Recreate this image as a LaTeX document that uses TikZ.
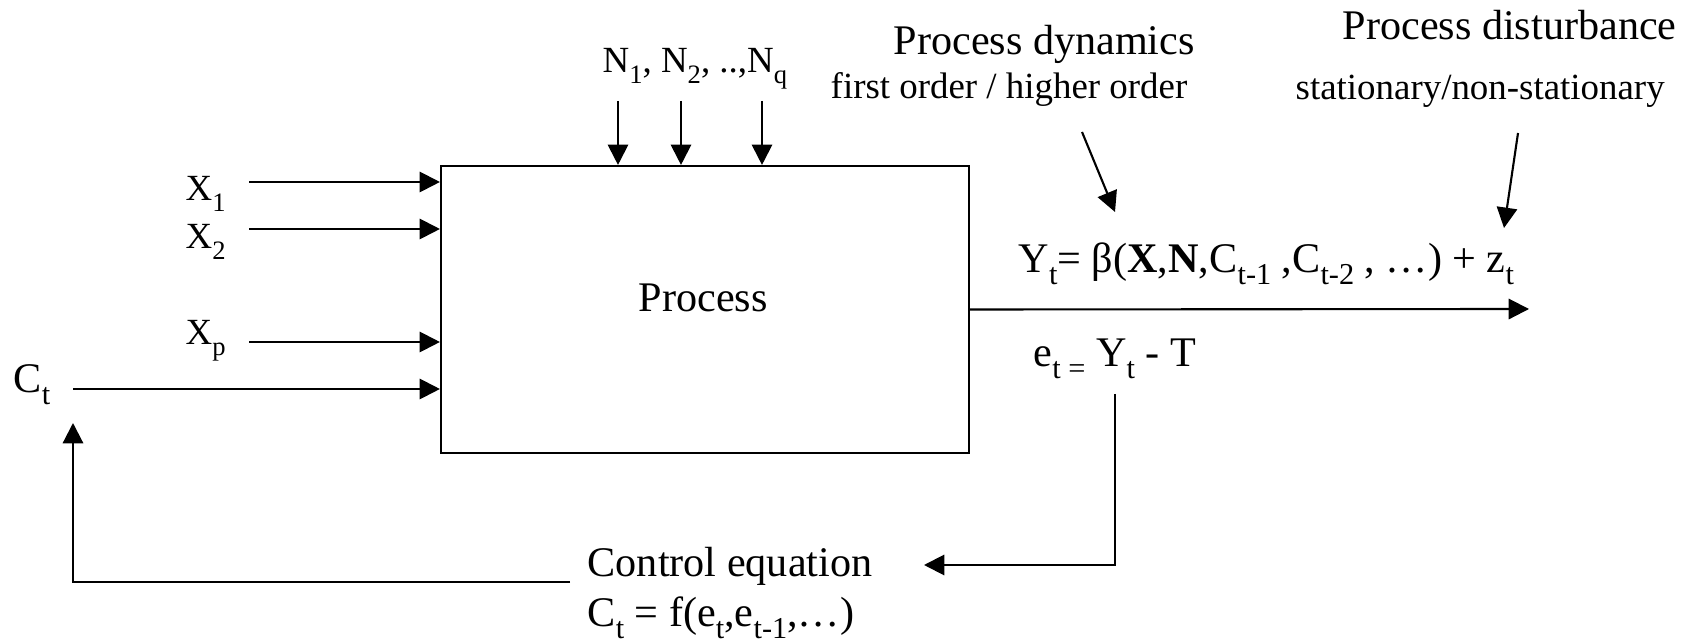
\documentclass[tikz,border=0pt]{standalone}
\usepackage{fontspec}
\setmainfont{Liberation Serif}
\usepackage{graphicx}
\usepackage{tikz}
\usetikzlibrary{arrows.meta, positioning, calc}
\newcommand\lowidx[1]{\raisebox{-0.28em}{\scalebox{0.72}{#1}}}
\tikzset{
  txt/.style={inner sep=0pt,anchor=base west,font=\fontsize{12}{14}\selectfont},
  smalltxt/.style={inner sep=0pt,anchor=base west,font=\fontsize{10.5}{12.5}\selectfont},
  arr/.style={line width=0.6pt,-{Triangle[length=5.8pt,width=5.8pt]}},
  procbox/.style={draw,line width=0.6pt,inner sep=0pt,minimum width=5.28cm,minimum height=2.87cm}
}

\begin{document}
\begin{tikzpicture}
\useasboundingbox(0,0)rectangle(16.98,6.44);
\node[procbox](proc)at(7.05,3.345){};
\node[txt](proclbl)at(6.38,3.32){Process};
\node[smalltxt](x1)at(1.85,4.43){X\lowidx{1}};
\node[smalltxt](x2)at(1.85,3.95){X\lowidx{2}};
\node[smalltxt](xp)at(1.85,2.99){X\lowidx{p}};
\node[txt](ct)at(0.13,2.51){C\lowidx{t}};
\node[smalltxt](nlbl)at(6.02,5.71){N\lowidx{1}, N\lowidx{2}, ..,N\lowidx{q}};
\node[txt](dyn)at(8.93,5.89){Process dynamics};
\node[smalltxt](dynsub)at(8.30,5.45){first order / higher order};
\node[txt](dist)at(13.42,6.04){Process disturbance};
\node[smalltxt](distsub)at(12.95,5.44){stationary/non-stationary};
\node[txt](yeq)at(10.18,3.71){Y\lowidx{t}= β(\textbf{X},\textbf{N},C\lowidx{t-1} ,C\lowidx{t-2} , …) + z\lowidx{t}};
\node[txt](elbl)at(10.33,2.77){e\lowidx{t =} Y\lowidx{t} - T};
\node[txt](ctrl)at(5.87,0.67){Control equation};
\node[txt](ctrleq)at(5.87,0.17){C\lowidx{t} = f(e\lowidx{t},e\lowidx{t-1},…)};
\coordinate(x1in)at(2.49,4.62);
\coordinate(x2in)at(2.49,4.15);
\coordinate(xpin)at(2.49,3.02);
\coordinate(ctin)at(0.73,2.55);
\foreach \n in {x1in,x2in,xpin,ctin}
  \draw[arr](\n)--(\n -| proc.west);
\foreach \n/\x in {n1/6.18,n2/6.81,nq/7.62}{
  \coordinate(\n)at(\x,5.43);
  \draw[arr](\n)--(\n |- proc.north);
}
\coordinate(yout)at(15.29,3.35);
\draw[arr](proc.east)--(yout);
\coordinate(dyntail)at(10.82,5.12);
\coordinate(dyntip)at(11.15,4.32);
\draw[arr](dyntail)--(dyntip);
\coordinate(disttail)at(15.18,5.11);
\coordinate(disttip)at(15.04,4.16);
\draw[arr](disttail)--(disttip);
\coordinate(ctrlin)at(9.24,0.79);
\draw[arr]([yshift=-0.14cm]elbl.south)|-(ctrlin);
\coordinate(ctrlout)at(5.70,0.62);
\coordinate(fbtip)at(0.73,2.21);
\draw[arr](ctrlout)-|(fbtip);
\end{tikzpicture}
\end{document}
